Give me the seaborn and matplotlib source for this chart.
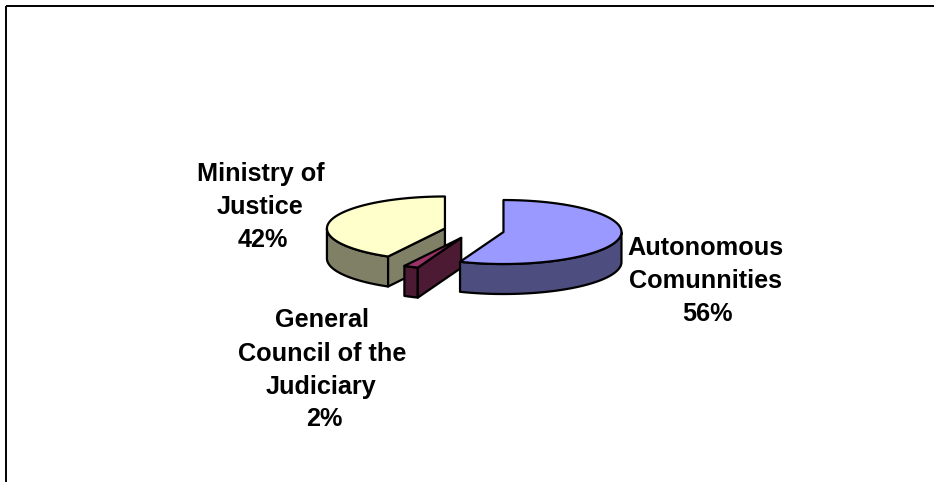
# 3D exploded pie - justice spending by institution
import numpy as np
import matplotlib.pyplot as plt
from matplotlib.patches import Polygon, Rectangle
import seaborn as sns

# Data
categories = ['Autonomous\nComunnities', 'General\nCouncil of the\nJudiciary', 'Ministry of\nJustice']
shares = [56, 2, 42]
top_colors = ['#9999FF', '#993366', '#FFFFCC']
side_colors = ['#4D4D80', '#4D1A33', '#808066']

sns.set_theme(style='white')
plt.rcParams['font.family'] = ['Liberation Sans', 'DejaVu Sans']

# Layout in pixels
W, H = 934, 482
cx, cy = 474, 230.5
rx, ry = 118, 32
depth = 30
explode = 30
# label lines placed one by one, the original spacing is a bit uneven
label_x = [[705.5, 705.5, 707], [322, 322, 321.5, 324.5], [260.5, 260.5, 262.5]]
label_y = [[255, 288, 321], [327, 361, 394, 426], [181, 214, 247]]


def ell(c, a):
    a = np.radians(a)
    return np.column_stack([c[0] + rx * np.cos(a), c[1] - ry * np.sin(a)])


fig = plt.figure(figsize=(W / 100, H / 100), dpi=100)
ax = fig.add_axes([0, 0, 1, 1])
ax.set_xlim(0, W)
ax.set_ylim(H, 0)
ax.axis('off')

# chart frame, right and bottom sides fall off the image
ax.add_patch(Rectangle((6, 5.5), W, H, fill=False, ec='black', lw=1.4))

# start at 12 o'clock and go clockwise
angles = 90 - np.cumsum([0] + shares) * 3.6
slices = []
for i in range(len(shares)):
    a0, a1 = angles[i], angles[i + 1]
    mid = np.radians((a0 + a1) / 2)
    c = (cx + explode * np.cos(mid), cy - explode * ry / rx * np.sin(mid))
    slices.append((i, a0, a1, c))

# back to front so that the slices cover each other properly
for i, a0, a1, c in slices[::-1]:
    a = np.linspace(a0, a1, 150)
    rim = ell(c, a)
    kw = dict(ec='black', lw=1.6, joinstyle='round')

    # outer wall, only the part facing the viewer
    front = np.sin(np.radians(a)) <= 0.001
    arc = rim[front]
    wall = np.vstack([arc, arc[::-1] + [0, depth]])
    ax.add_patch(Polygon(wall, fc=side_colors[i], **kw))

    # cut face on the lower right side of the slice
    if i != 0:
        p = ell(c, np.array([a0]))[0]
        face = np.array([c, p, p + [0, depth], np.array(c) + [0, depth]])
        ax.add_patch(Polygon(face, fc=side_colors[i], **kw))

    top = np.vstack([[c], rim])
    ax.add_patch(Polygon(top, fc=top_colors[i], **kw))

# Labels
for name, share, xs, ys in zip(categories, shares, label_x, label_y):
    lines = name.split('\n') + ['%d%%' % share]
    for line, x, y in zip(lines, xs, ys):
        ax.text(x, y, line, ha='center', va='baseline', fontsize=18.2,
                fontweight='bold', color='black')

plt.savefig('out.png', dpi=100)
